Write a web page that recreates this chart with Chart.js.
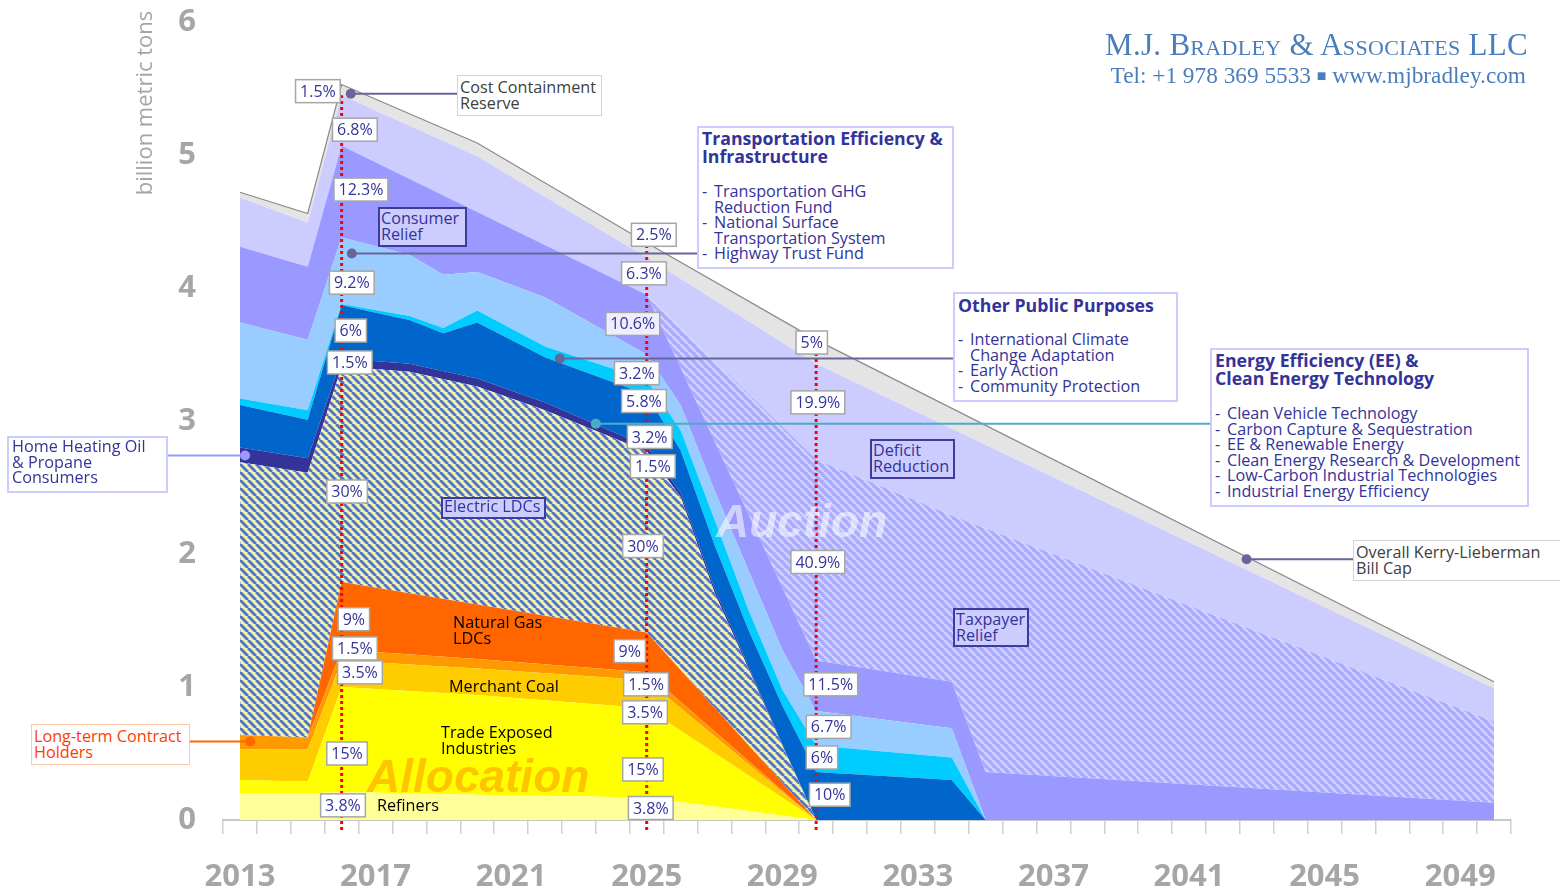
<!DOCTYPE html>
<html>
<head>
<meta charset="utf-8">
<script src="https://cdn.jsdelivr.net/npm/chart.js@4"></script>
<style>
  body { margin: 0; background: #fff; }
  #wrap { position: relative; width: 1560px; height: 891px; overflow: hidden; }
  #chart { position: absolute; left: 0; top: 0; }
  .t { position: absolute; font: 16.2px/15.6px "Open Sans", sans-serif; color: #333399; white-space: nowrap; }
  .frame { position: absolute; box-sizing: border-box; background: #fff; }
  .tag { position: absolute; box-sizing: border-box; background: #ccccff; border: 2px solid #3c3c9c; }
  .h { font-weight: bold; font-size: 17.7px; line-height: 18px; }
  .d { display: inline-block; width: 12px; }
  .blk { color: #000; }
  .logo { position: absolute; right: 32px; font-family: "Liberation Serif", serif; color: #4a7ebb; white-space: nowrap; }
</style>
</head>
<body>
<div id="wrap">
  <canvas id="chart" width="1560" height="891"></canvas>

  <div class="logo" style="top:27px;font-size:31px;font-variant:small-caps;letter-spacing:0.3px;">M.J. Bradley &amp; Associates LLC</div>
  <div class="logo" style="top:62px;font-size:23.3px;right:34px;">Tel: +1 978 369 5533 <span style="font-size:16px;position:relative;top:-2px">&#9632;</span> www.mjbradley.com</div>

  <div class="frame" style="left:457px;top:75px;width:145px;height:41px;border:1px solid #d4d4d4"></div>
  <div class="t" style="left:460px;top:80px;color:#404040">Cost Containment<br>Reserve</div>

  <div class="frame" style="left:697px;top:126px;width:257px;height:143px;border:2px solid #ccccff"></div>
  <div class="t h" style="left:702px;top:129px">Transportation Efficiency &amp;<br>Infrastructure</div>
  <div class="t" style="left:702px;top:184px"><span class="d">-</span>Transportation GHG<br><span class="d"></span>Reduction Fund<br><span class="d">-</span>National Surface<br><span class="d"></span>Transportation System<br><span class="d">-</span>Highway Trust Fund</div>

  <div class="frame" style="left:953px;top:292px;width:225px;height:110px;border:2px solid #ccccff"></div>
  <div class="t h" style="left:958px;top:296px">Other Public Purposes</div>
  <div class="t" style="left:958px;top:332px"><span class="d">-</span>International Climate<br><span class="d"></span>Change Adaptation<br><span class="d">-</span>Early Action<br><span class="d">-</span>Community Protection</div>

  <div class="frame" style="left:1210px;top:348px;width:319px;height:159px;border:2px solid #ccccff"></div>
  <div class="t h" style="left:1215px;top:351px">Energy Efficiency (EE) &amp;<br>Clean Energy Technology</div>
  <div class="t" style="left:1215px;top:406px"><span class="d">-</span>Clean Vehicle Technology<br><span class="d">-</span>Carbon Capture &amp; Sequestration<br><span class="d">-</span>EE &amp; Renewable Energy<br><span class="d">-</span>Clean Energy Research &amp; Development<br><span class="d">-</span>Low-Carbon Industrial Technologies<br><span class="d">-</span>Industrial Energy Efficiency</div>

  <div class="frame" style="left:7px;top:436px;width:161px;height:57px;border:2px solid #ccccff"></div>
  <div class="t" style="left:12px;top:439px">Home Heating Oil<br>&amp; Propane<br>Consumers</div>

  <div class="frame" style="left:31px;top:724px;width:159px;height:41px;border:1px solid #ffc8a8"></div>
  <div class="t" style="left:34px;top:729px;color:#ff3c00">Long-term Contract<br>Holders</div>

  <div class="frame" style="left:1353px;top:540px;width:210px;height:41px;border:1px solid #d4d4d4"></div>
  <div class="t" style="left:1356px;top:545px;color:#404040">Overall Kerry-Lieberman<br>Bill Cap</div>

  <div class="tag" style="left:378px;top:207px;width:89px;height:40px"></div>
  <div class="t" style="left:381px;top:211px">Consumer<br>Relief</div>
  <div class="tag" style="left:441px;top:497px;width:105px;height:22px"></div>
  <div class="t" style="left:444px;top:499px">Electric LDCs</div>
  <div class="tag" style="left:870px;top:439px;width:85px;height:40px"></div>
  <div class="t" style="left:873px;top:443px">Deficit<br>Reduction</div>
  <div class="tag" style="left:953px;top:608px;width:76px;height:39px"></div>
  <div class="t" style="left:956px;top:612px">Taxpayer<br>Relief</div>

  <div class="t blk" style="left:453px;top:615px">Natural Gas<br>LDCs</div>
  <div class="t blk" style="left:449px;top:679px">Merchant Coal</div>
  <div class="t blk" style="left:441px;top:725px">Trade Exposed<br>Industries</div>
  <div class="t blk" style="left:377px;top:798px">Refiners</div>
</div>
<script>
// cumulative top of each band, [year, billion metric tons]
const refinersTop  = [[2013,0.20],[2015,0.20],[2016,0.21],[2020,0.19],[2025,0.17],[2030,0],[2050,0]];
const tradeTop     = [[2013,0.30],[2015,0.29],[2016,1.00],[2020,0.94],[2025,0.84],[2030,0],[2050,0]];
const coalTop      = [[2013,0.53],[2015,0.53],[2016,1.20],[2020,1.14],[2025,1.05],[2030,0],[2050,0]];
const contractTop  = [[2013,0.64],[2015,0.62],[2016,1.28],[2020,1.21],[2025,1.11],[2030,0],[2050,0]];
const natGasTop    = [[2013,0.64],[2015,0.62],[2016,1.79],[2020,1.62],[2025,1.41],[2030,0],[2050,0]];
const electricTop  = [[2013,2.69],[2015,2.61],[2016,3.41],[2018,3.37],[2020,3.26],[2022,3.08],[2025,2.77],[2026,2.43],[2027,1.71],[2028,1.14],[2029,0.56],[2030,0],[2050,0]];
const heatingTop   = [[2013,2.80],[2015,2.72],[2016,3.47],[2018,3.43],[2020,3.32],[2022,3.14],[2025,2.81],[2026,2.46],[2027,1.74],[2028,1.16],[2029,0.57],[2030,0],[2050,0]];
const blueTop      = [[2013,3.12],[2015,3.01],[2016,3.87],[2018,3.76],[2019,3.66],[2020,3.74],[2022,3.48],[2025,3.20],[2026,2.78],[2027,2.07],[2028,1.43],[2029,0.86],[2030,0.36],[2034,0.30],[2035,0],[2050,0]];
const cyanTop      = [[2013,3.17],[2015,3.08],[2016,3.88],[2018,3.79],[2019,3.70],[2020,3.83],[2022,3.56],[2025,3.31],[2026,2.93],[2027,2.26],[2028,1.58],[2029,0.98],[2030,0.56],[2034,0.47],[2035,0],[2050,0]];
const lightBlueTop = [[2013,3.74],[2015,3.61],[2016,4.38],[2018,4.25],[2019,4.10],[2020,4.12],[2022,3.93],[2025,3.50],[2026,3.12],[2027,2.48],[2028,1.88],[2029,1.28],[2030,0.82],[2034,0.69],[2035,0],[2050,0]];
const consumerTop  = [[2013,4.31],[2015,4.16],[2016,5.07],[2025,3.95],[2030,1.20],[2034,1.04],[2035,0.36],[2050,0.13]];
const taxpayerTop  = [[2013,4.31],[2015,4.16],[2016,5.07],[2025,3.95],[2030,2.71],[2034,2.29],[2050,0.74]];
const deficitTop   = [[2013,4.68],[2015,4.49],[2016,5.45],[2020,4.99],[2025,4.23],[2030,3.43],[2050,0.99]];
const capTop       = [[2013,4.72],[2015,4.56],[2016,5.53],[2020,5.09],[2025,4.34],[2030,3.61],[2050,1.04]];

// share labels [year, value, text]
const shareLabels = [
  [2015.3,5.48,'1.5%'],[2016.39,5.19,'6.8%'],[2016.57,4.74,'12.3%'],[2016.3,4.04,'9.2%'],
  [2016.27,3.68,'6%'],[2016.24,3.44,'1.5%'],[2016.16,2.47,'30%'],[2016.36,1.51,'9%'],
  [2016.39,1.29,'1.5%'],[2016.54,1.11,'3.5%'],[2016.16,0.50,'15%'],[2016.04,0.11,'3.8%'],
  [2025.21,4.40,'2.5%'],[2024.92,4.11,'6.3%'],[2024.59,3.73,'10.6%'],[2024.71,3.36,'3.2%'],
  [2024.92,3.15,'5.8%'],[2025.09,2.88,'3.2%'],[2025.18,2.66,'1.5%'],[2024.89,2.06,'30%'],
  [2024.5,1.27,'9%'],[2024.98,1.02,'1.5%'],[2024.95,0.81,'3.5%'],[2024.89,0.38,'15%'],
  [2025.12,0.09,'3.8%'],
  [2029.87,3.59,'5%'],[2030.05,3.14,'19.9%'],[2030.05,1.94,'40.9%'],[2030.43,1.02,'11.5%'],
  [2030.37,0.70,'6.7%'],[2030.17,0.47,'6%'],[2030.4,0.19,'10%']
];
// leader lines [year, value, end x in px, colour]
const leaders = [
  [2016.27,5.46,457,'#66669a'],[2016.3,4.26,697,'#66669a'],[2022.44,3.47,953,'#66669a'],
  [2023.5,2.98,1210,'#4bacc6'],[2013.15,2.74,167,'#9999ff'],[2013.3,0.59,189,'#ff6600'],
  [2042.7,1.96,1353,'#66669a']
];
const markerYears = [[2016,5.45],[2025,4.32],[2030,3.53]];
const yearLabels = [2013,2017,2021,2025,2029,2033,2037,2041,2045,2049];
const valueLabels = [0,1,2,3,4,5,6];

function stripes(bg, fg, size, w) {
  const c = document.createElement('canvas');
  c.width = size; c.height = size;
  const g = c.getContext('2d');
  g.fillStyle = bg; g.fillRect(0, 0, size, size);
  g.strokeStyle = fg; g.lineWidth = w;
  for (const o of [-size, 0, size]) {
    g.beginPath(); g.moveTo(o, 0); g.lineTo(o + size, size); g.stroke();
  }
  return g.createPattern(c, 'repeat');
}
const electricFill = stripes('#f4f4a4', '#4f72d6', 8, 2.9);
const taxpayerFill = stripes('#a9a9ff', '#d2d2ff', 8, 2.6);

const bands = [
  ['Refiners', refinersTop, '#ffff99'],
  ['Trade Exposed Industries', tradeTop, '#ffff00'],
  ['Merchant Coal', coalTop, '#ffcc00'],
  ['Long-term Contract Holders', contractTop, '#ff9900'],
  ['Natural Gas LDCs', natGasTop, '#ff6600'],
  ['Electric LDCs', electricTop, electricFill],
  ['Home Heating Oil', heatingTop, '#333399'],
  ['Energy Efficiency', blueTop, '#0066cc'],
  ['Other Public Purposes', cyanTop, '#00ccff'],
  ['Transportation', lightBlueTop, '#99ccff'],
  ['Consumer Relief', consumerTop, '#9999ff'],
  ['Taxpayer Relief', taxpayerTop, taxpayerFill],
  ['Deficit Reduction', deficitTop, '#ccccff'],
  ['Cost Containment Reserve', capTop, '#e4e4e4']
];

const datasets = bands.map(([name, pts, bg], i) => ({
  label: name,
  data: pts.map(([x, y]) => ({x, y})),
  fill: i === 0 ? 'origin' : '-1',
  backgroundColor: bg,
  borderColor: i === bands.length - 1 ? '#8a8a8a' : 'rgba(0,0,0,0)',
  borderWidth: i === bands.length - 1 ? 1.2 : 0,
  pointRadius: 0,
  tension: 0
}));
markerYears.forEach(([yr, top]) => datasets.push({
  label: 'marker ' + yr,
  data: [{x: yr, y: -0.075}, {x: yr, y: top}],
  fill: false, borderColor: '#ff0000', borderWidth: 3, borderDash: [3, 3],
  pointRadius: 0, clip: false, order: -1
}));

const tickValues = [];
for (let v = 2012.5; v <= 2050.5; v++) tickValues.push(v);
yearLabels.forEach(v => tickValues.push(v));

const overlay = {
  id: 'overlay',
  afterDatasetsDraw(chart) {
    const ctx = chart.ctx, xs = chart.scales.x, ys = chart.scales.y;
    ctx.save();
    // value axis labels
    ctx.font = 'bold 31px "Open Sans", sans-serif';
    ctx.fillStyle = '#a6a6a6';
    ctx.textAlign = 'right'; ctx.textBaseline = 'middle';
    valueLabels.forEach(v => ctx.fillText(String(v), 196, ys.getPixelForValue(v)));
    // watermarks
    ctx.font = 'italic bold 46px "Liberation Sans Narrow", "Liberation Sans", sans-serif';
    ctx.textAlign = 'left'; ctx.textBaseline = 'alphabetic';
    ctx.fillStyle = 'rgba(255,190,0,0.9)';
    ctx.fillText('Allocation', 367, 792);
    ctx.fillStyle = 'rgba(255,255,255,0.55)';
    ctx.fillText('Auction', 716, 537);
    // axis title
    ctx.save();
    ctx.translate(146, 103);
    ctx.rotate(-Math.PI / 2);
    ctx.font = '22px "Open Sans", sans-serif';
    ctx.fillStyle = '#a6a6a6';
    ctx.textAlign = 'center'; ctx.textBaseline = 'middle';
    ctx.fillText('billion metric tons', 0, 0);
    ctx.restore();
    // leader lines
    leaders.forEach(([yr, v, ex, col]) => {
      const px = xs.getPixelForValue(yr), py = ys.getPixelForValue(v);
      ctx.strokeStyle = col; ctx.lineWidth = 2;
      ctx.beginPath(); ctx.moveTo(px, py); ctx.lineTo(ex, py); ctx.stroke();
      ctx.fillStyle = col;
      ctx.beginPath(); ctx.arc(px, py, 5, 0, Math.PI * 2); ctx.fill();
    });
    // share labels
    ctx.font = '16px "Open Sans", sans-serif';
    ctx.textAlign = 'center'; ctx.textBaseline = 'middle';
    shareLabels.forEach(([yr, v, txt]) => {
      const px = xs.getPixelForValue(yr), py = ys.getPixelForValue(v);
      const w = ctx.measureText(txt).width + 9, h = 23;
      ctx.fillStyle = txt === '10.6%' ? '#eeeeff' : '#ffffff';
      ctx.fillRect(px - w / 2, py - h / 2, w, h);
      ctx.strokeStyle = '#a6a6a6'; ctx.lineWidth = 1.5;
      ctx.strokeRect(px - w / 2, py - h / 2, w, h);
      ctx.fillStyle = '#333399';
      ctx.fillText(txt, px, py + 1);
    });
    ctx.restore();
  }
};

new Chart(document.getElementById('chart'), {
  type: 'line',
  data: { datasets },
  options: {
    responsive: false,
    animation: false,
    layout: { padding: { top: 22, right: 49, left: 0, bottom: 0 } },
    plugins: { legend: { display: false }, tooltip: { enabled: false } },
    scales: {
      x: {
        type: 'linear', min: 2012.5, max: 2050.5,
        afterBuildTicks(axis) { axis.ticks = tickValues.map(v => ({value: v})); },
        afterFit(axis) { axis.height = 71; },
        ticks: {
          autoSkip: false, maxRotation: 0, padding: 25, color: '#a6a6a6',
          font: { family: '"Open Sans", sans-serif', size: 31, weight: 'bold' },
          callback: v => yearLabels.includes(v) ? String(v) : ''
        },
        grid: {
          drawOnChartArea: false, drawTicks: true, tickLength: 14, lineWidth: 1.5,
          tickColor: c => (c.tick && Number.isInteger(c.tick.value)) ? 'rgba(0,0,0,0)' : '#cfcfcf'
        },
        border: { display: true, color: '#c8c8c8', width: 2 }
      },
      y: {
        min: 0, max: 6,
        afterFit(axis) { axis.width = 223; },
        ticks: { display: false, stepSize: 1 },
        grid: { display: false, drawTicks: false },
        border: { display: false }
      }
    }
  },
  plugins: [overlay]
});
</script>
</body>
</html>
